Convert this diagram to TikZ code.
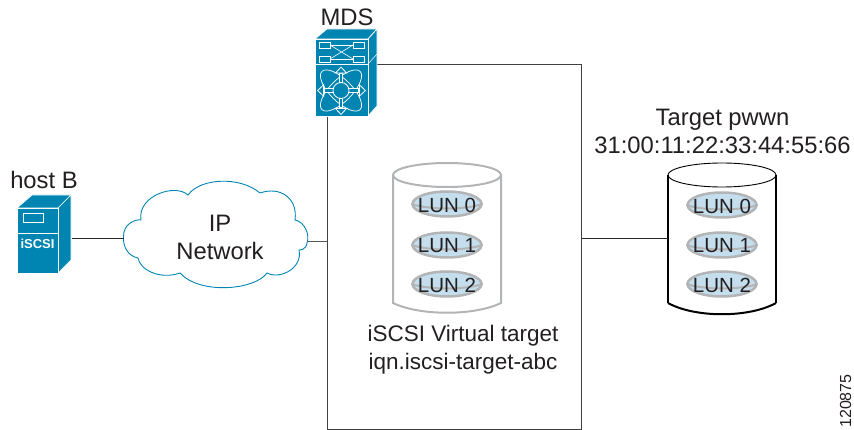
\documentclass[tikz,border=0pt]{standalone}
\usepackage{xcolor}
\usepackage{fontspec}
\setmainfont{Liberation Sans}
\usetikzlibrary{shapes.geometric,arrows.meta,calc}
\definecolor{ciscoblue}{RGB}{0,133,178}
\definecolor{lunblue}{RGB}{196,222,238}
\definecolor{diskgray}{RGB}{178,180,182}
\definecolor{inkgray}{RGB}{35,31,32}
\begin{document}
\begin{tikzpicture}[x=1pt,y=-1pt]
\tikzstyle{label} = [text=inkgray,font=\fontsize{23.8}{28}\selectfont,align=center,inner sep=0pt];
\tikzstyle{lun} = [ellipse,draw=diskgray,fill=lunblue,line width=2.5pt,minimum width=69pt,minimum height=25pt,inner sep=0pt];
\tikzstyle{face} = [fill=ciscoblue,draw=white,line width=0.7pt,line join=round];
\tikzstyle{wire} = [line width=0.9pt,draw=black!85];
\tikzstyle{fatarrow} = [white,line width=4.4pt,-{Triangle[length=7pt,width=13pt,line width=0.8pt,fill=ciscoblue,color=white]}];
\tikzstyle{thinarrow} = [ciscoblue,line width=2.6pt];
\useasboundingbox (0,0) rectangle (854,430);

% big box, the switch sits on its corner
\node [draw=black!75,line width=1pt,minimum width=254pt,minimum height=364pt,inner sep=0pt] (box) at (454,247) {};

% switch
\draw[face] (315,39) -- (327,29) -- (377,29) -- (368,39) -- cycle;
\draw[face] (368,39) -- (377,29) -- (377,106) -- (368,116) -- cycle;
\draw[face] (315,39) rectangle (368,64);
\draw[face] (315,64) rectangle (368,116);
\draw[white,line width=0.5pt] (368,64) -- (377,54);
\foreach \y in {45,59} {
  \draw[white,line width=0.6pt] (319,\y-3) rectangle (330,\y+3);
  \draw[white,line width=0.6pt] (353,\y-3) rectangle (364,\y+3);
}
\draw[white,line width=0.6pt] (330,45) -- (353,45) (330,59) -- (353,59);
\draw[white,line width=0.6pt] (330,45) -- (353,59) (330,59) -- (353,45);
\coordinate (hub) at (341,90.5);
\foreach \a in {45,-45} {
  \draw[white,line width=0.7pt,rotate around={\a:(hub)}] (hub) ellipse (27pt and 11pt);
}
\foreach \a/\b in {341/66.5,341/115,317/90.5,366/90.5} {
  \draw[fatarrow] (hub) -- (\a,\b);
  \draw[thinarrow,shorten >=8pt] (hub) -- (\a,\b);
}
\node[circle,fill=ciscoblue,draw=white,line width=0.8pt,minimum size=16pt,inner sep=0pt] (hubc) at (hub) {};
\node[label] (mds) at (347,17) {MDS};

% host
\draw[face] (17,208) -- (32,195) -- (71,195) -- (58,208) -- cycle;
\draw[face] (58,208) -- (71,195) -- (71,260) -- (58,273) -- cycle;
\draw[face] (17,208) rectangle (58,273);
\draw[white,line width=0.6pt] (17,233) -- (58,233);
\draw[white,line width=0.7pt] (23,213) rectangle (43,222);
\node[text=white,font=\fontsize{13}{13}\selectfont\bfseries,inner sep=0pt] (iscsi) at (37.5,244) {iSCSI};
\node[label] (hostB) at (44,180) {host B};
\coordinate (hostE) at (72,238);

% cloud
\draw[ciscoblue,line width=0.9pt,fill=white]
  (123.5,237) .. controls (123,224) and (135,219) .. (141,220)
  .. controls (137,196) and (175,183) .. (188,195)
  .. controls (200,178) and (240,176) .. (260,193)
  .. controls (280,186) and (298,198) .. (295,220)
  .. controls (305,222) and (310,235) .. (307,243)
  .. controls (306,250) and (300,250) .. (299,250)
  .. controls (303,268) and (280,280) .. (267,273)
  .. controls (255,290) and (200,295) .. (180,273)
  .. controls (160,280) and (140,270) .. (138,258)
  .. controls (128,256) and (123,247) .. (123.5,237) -- cycle;
\coordinate (cloudW) at (123.5,238);
\coordinate (cloudE) at (307,241);
\node[label] (ipnet) at (220,237) {IP\\Network};

\draw[wire] (hostE) -- (cloudW);
\draw[wire,draw=black!65] (cloudE) -- (cloudE -| box.west);

% virtual disk
\draw[diskgray,line width=2pt] (393,175) -- (393,303) .. controls (420,316) and (474,316) .. (501,303) -- (501,175);
\node[ellipse,draw=diskgray,line width=2pt,minimum width=108pt,minimum height=24pt,inner sep=0pt] (vdisk) at (447,175) {};
\foreach \y/\n in {204/0,245/1,284/2} {
  \node[lun] (vlun\n) at (447,\y) {};
  \draw[diskgray,line width=2pt] (vlun\n.west) .. controls (430,\y+6) and (464,\y+6) .. (vlun\n.east);
  \node[text=inkgray,font=\fontsize{20.5}{24}\selectfont,inner sep=0pt] at (447,\y+1) {LUN \n};
}
\node[label,font=\fontsize{22.5}{28}\selectfont] (vname) at (463,350) {iSCSI Virtual target\\iqn.iscsi-target-abc};

% target disk
\draw[black,line width=1.2pt] (668,175) -- (668,303);
\draw[black,line width=1.2pt] (776,175) -- (776,303);
\draw[black,line width=2pt] (668,303) .. controls (695,318) and (749,318) .. (776,303);
\node[ellipse,draw=black,line width=0.9pt,minimum width=108pt,minimum height=24pt,inner sep=0pt] (tdisk) at (722,175) {};
\foreach \y/\n in {205/0,245/1,284/2} {
  \node[lun] (tlun\n) at (722,\y) {};
  \draw[diskgray,line width=2pt] (tlun\n.west) .. controls (705,\y+6) and (739,\y+6) .. (tlun\n.east);
  \node[text=inkgray,font=\fontsize{20.5}{24}\selectfont,inner sep=0pt] at (722,\y+1) {LUN \n};
}
\node[label] (tname) at (722.5,131.5) {Target pwwn\\31:00:11:22:33:44:55:66};
\coordinate (tdiskW) at (668,238);
\draw[wire] (tdiskW -| box.east) -- (tdiskW);

\node[rotate=90,text=inkgray,font=\fontsize{16}{16}\selectfont,inner sep=0pt] (figno) at (845.5,401) {120875};
\end{tikzpicture}
\end{document}
